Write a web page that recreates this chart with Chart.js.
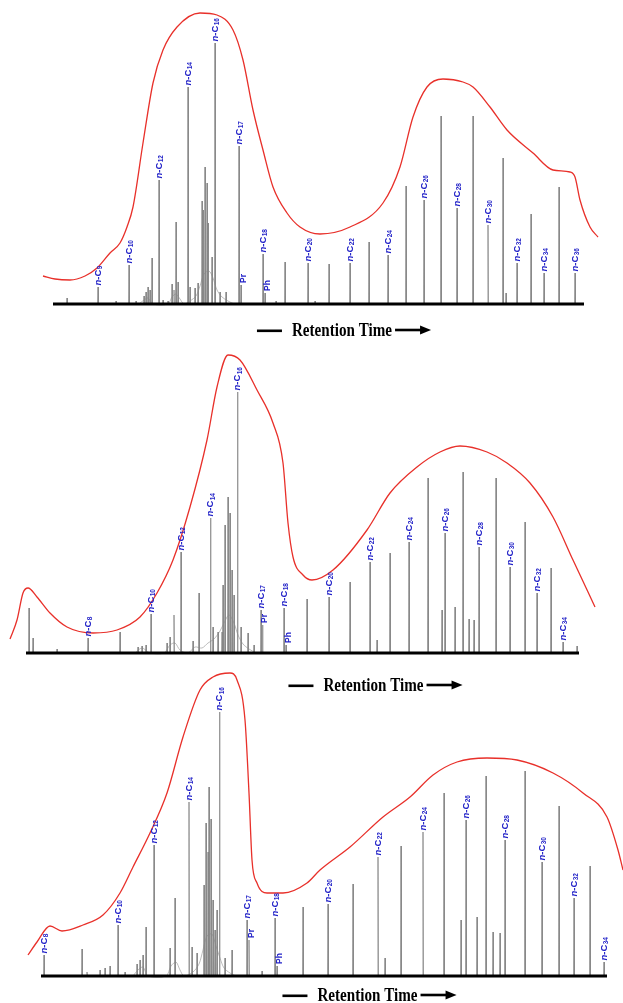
<!DOCTYPE html>
<html><head><meta charset="utf-8">
<script src="https://cdn.jsdelivr.net/npm/chart.js@4.4.1/dist/chart.umd.min.js"></script>
<style>
html,body{margin:0;padding:0;background:#fff;}
#wrap{position:relative;width:623px;height:1003px;overflow:hidden;background:#fff;}
canvas{position:absolute;left:0;}
</style></head><body>
<div id="wrap">
<canvas id="c1" width="623" height="345" style="top:0px"></canvas>
<canvas id="c2" width="623" height="355" style="top:345px"></canvas>
<canvas id="c3" width="623" height="343" style="top:660px"></canvas>
</div>
<script>
// ===== Chromatogram A (top) — retention time (min), abundance (arbitrary units)
const aAlkaneLabels  = ['9','10','12','14','16','17','18','20','22','24','26','28','30','32','34','36'];
const aAlkaneTimes   = [9.8,12.9,15.9,18.8,21.5,23.9,26.3,30.8,35.0,38.8,42.4,45.7,48.8,51.7,54.4,57.5];
const aAlkaneHeights = [17,39,124,217,261,158,50,41,41,49,104,96,79,41,31,31];
const aIsoLabels  = ['Pr','Ph'];
const aIsoTimes   = [24.1,26.5];
const aIsoHeights = [19,11];
const aPeakTimes   = [6.7,11.6,13.6,14.4,14.6,14.8,15.0,15.2,16.3,16.8,17.2,17.4,17.6,17.8,19.0,19.5,19.8,20.2,20.3,20.5,20.7,20.8,21.2,22.0,22.6,27.6,28.5,31.5,32.9,36.9,40.6,44.1,47.3,50.3,50.6,53.1,55.9];
const aPeakHeights = [6,3,3,8,12,17,14,46,4,3,20,14,82,22,17,16,21,103,94,137,121,81,47,12,12,3,42,3,40,62,118,188,188,146,11,90,117];
const aHumpTimes  = [13.9,14.4,14.8,15.3,16.8,17.2,17.6,18.0,18.4,19.0,19.6,20.0,20.4,20.9,21.3,21.7,22.2,22.8,23.4];
const aHumpValues = [0,4,6,0,0,7,10,5,0,3,8,18,30,33,26,14,7,3,0];
const aEnvTimes  = [4.3,5.5,7.0,8.5,9.7,11.0,12.0,12.7,13.3,14.3,15.3,16.3,17.7,20.0,21.7,23.3,24.3,25.3,26.3,27.3,28.7,30.0,32.0,35.0,38.3,40.0,41.3,42.7,44.3,46.3,47.3,49.0,50.7,53.3,55.3,57.0,57.5,58.0,59.0,59.8];
const aEnvValues = [28,25,24,28,36,51,61,77,97,161,221,254,277,291,289,274,244,194,154,117,91,77,70,77,101,137,187,217,225,222,217,197,174,151,134,132,127,104,77,67];
const aBaseRange = [5.3,58.4];

// ===== Chromatogram B (middle)
const bAlkaneLabels  = ['8','10','12','14','16','17','18','20','22','24','26','28','30','32','34'];
const bAlkaneTimes   = [8.8,15.1,18.1,21.05,23.75,26.1,28.4,32.9,37.0,40.9,44.5,47.9,51.0,53.7,56.3];
const bAlkaneHeights = [15,39,101,135,261,43,45,56,91,111,120,106,86,60,11];
const bIsoLabels  = ['Pr','Ph'];
const bIsoTimes   = [26.25,28.6];
const bIsoHeights = [28,8];
const bPeakTimes   = [2.9,3.3,5.7,12.0,13.8,14.2,14.6,16.7,17.0,17.4,19.3,19.9,21.3,21.8,22.2,22.3,22.5,22.8,23.0,23.2,23.4,24.1,24.8,25.4,30.7,35.0,37.7,39.0,42.8,44.2,45.5,46.3,46.9,47.4,49.6,52.5,55.1,57.7];
const bPeakHeights = [45,15,4,21,6,7,8,10,16,38,12,60,26,21,21,68,128,156,140,83,58,26,20,8,54,71,13,100,175,43,46,181,34,33,175,131,85,7];
const bHumpTimes  = [13.5,14.2,15.0,16.4,17.0,17.5,18.0,18.8,19.5,20.2,20.8,21.4,22.0,22.4,22.9,23.4,23.8,24.3,24.9,25.6];
const bHumpValues = [0,5,0,0,8,10,3,0,6,5,10,14,22,30,38,30,18,9,4,0];
const bEnvTimes  = [1.0,1.7,2.3,2.8,3.7,5.0,6.7,9.3,11.7,14.0,15.7,17.3,19.0,20.7,21.7,22.8,24.0,25.7,27.3,28.3,28.8,29.3,30.3,31.2,33.3,36.7,39.0,41.7,44.0,46.0,48.7,50.7,53.0,55.3,57.3,59.5];
const bEnvValues = [14,33,60,65,56,40,26,20,23,36,60,93,146,213,266,298,293,263,230,190,130,96,78,73,83,123,160,186,201,207,201,190,170,136,93,46];
const bBaseRange = [2.6,57.9];

// ===== Chromatogram C (bottom)
const cAlkaneLabels  = ['8','10','12','14','16','17','18','20','22','24','26','28','30','32','34'];
const cAlkaneTimes   = [4.4,11.8,15.4,18.9,21.95,24.7,27.5,32.8,37.8,42.3,46.6,50.5,54.2,57.4,60.4];
const cAlkaneHeights = [21,51,131,174,264,56,58,72,119,144,156,136,114,78,14];
const cIsoLabels  = ['Pr','Ph'];
const cIsoTimes   = [24.9,27.7];
const cIsoHeights = [36,10];
const cPeakTimes   = [8.2,8.7,10.0,10.5,11.0,12.5,13.7,14.0,14.3,14.6,17.0,17.5,19.2,19.7,20.4,20.6,20.8,20.9,21.1,21.3,21.5,21.7,22.5,23.2,26.2,30.3,35.3,38.5,40.1,44.4,46.1,47.7,48.6,49.3,50.0,52.5,55.9,59.0];
const cPeakHeights = [27,4,6,8,10,4,12,16,21,49,28,78,29,23,91,153,124,189,157,76,46,66,18,26,5,69,92,18,130,183,56,59,200,44,43,205,170,110];
const cHumpTimes  = [13.3,13.8,14.3,14.8,16.6,17.1,17.6,18.0,18.4,19.3,19.9,20.3,20.7,21.2,21.6,22.0,22.4,23.0,23.6];
const cHumpValues = [0,6,9,0,0,10,14,6,0,4,12,26,40,42,30,18,8,3,0];
const cEnvTimes  = [2.8,3.7,5.0,6.2,8.3,10.3,12.0,13.3,15.0,16.7,18.3,20.0,21.3,23.0,23.7,24.5,24.9,25.2,25.7,26.7,28.3,30.7,32.0,35.0,38.3,41.0,43.3,45.7,48.7,51.7,55.3,58.3,60.7,61.8,62.3];
const cEnvValues = [21,34,50,45,51,61,83,109,143,183,239,286,299,303,296,256,183,116,93,83,83,93,106,129,159,179,201,214,218,216,203,183,159,126,106];
const cBaseRange = [4.1,60.7];

const axisCaption = 'Retention Time';

// ===== helpers
const zip = (t, v) => t.map((x, i) => ({x, y: v[i]}));
const PEAK_HALF_WIDTH = 0.045;
function spikes(times, heights) {
  const d = [];
  times.forEach((t, i) => { d.push({x: t - PEAK_HALF_WIDTH, y: 0}, {x: t, y: heights[i]}, {x: t + PEAK_HALF_WIDTH, y: 0}); });
  return d;
}

const peakLabels = {
  id: 'peakLabels',
  afterDatasetsDraw(chart, args, o) {
    const {ctx} = chart, x = chart.scales.x, y = chart.scales.y;
    ctx.save();
    ctx.fillStyle = '#2323c8';
    ctx.textAlign = 'left';
    ctx.textBaseline = 'middle';
    o.alkLabels.forEach((sub, i) => {
      const px = x.getPixelForValue(o.alkTimes[i]);
      const py = y.getPixelForValue(o.alkHeights[i]) - 1.5;
      ctx.save();
      ctx.translate(px, py);
      ctx.rotate(-Math.PI / 2);
      let cx = 0;
      ctx.font = 'italic bold 9.5px "Liberation Sans"';
      ctx.fillText('n', cx, 0); cx += ctx.measureText('n').width;
      ctx.font = 'bold 9.5px "Liberation Sans"';
      ctx.fillText('-C', cx, 0); cx += ctx.measureText('-C').width;
      ctx.font = 'bold 6.5px "Liberation Sans"';
      ctx.fillText(sub, cx + 0.3, 2.3);
      ctx.restore();
    });
    o.isoLabels.forEach((lab, i) => {
      const px = x.getPixelForValue(o.isoTimes[i]) + 2.5;
      const py = y.getPixelForValue(o.isoHeights[i]) - 2;
      ctx.save();
      ctx.translate(px, py);
      ctx.rotate(-Math.PI / 2);
      ctx.font = 'bold 8.5px "Liberation Sans"';
      ctx.fillText(lab, 0, 0);
      ctx.restore();
    });
    ctx.restore();
  }
};

const caption = {
  id: 'caption',
  afterDraw(chart, args, o) {
    const {ctx} = chart;
    const sx = 0.84;
    ctx.save();
    ctx.fillStyle = '#000';
    ctx.font = 'bold 18px "Liberation Serif"';
    const w = ctx.measureText(o.text).width * sx;
    const left = o.cx - w / 2, right = o.cx + w / 2;
    ctx.save();
    ctx.translate(left, o.cy + 6);
    ctx.scale(sx, 1);
    ctx.textBaseline = 'alphabetic';
    ctx.fillText(o.text, 0, 0);
    ctx.restore();
    // left dash
    ctx.fillRect(left - 35, o.cy - 0.5, 25, 2.6);
    // right arrow
    const a0 = right + 3, a1 = right + 39;
    ctx.fillRect(a0, o.cy - 1.3, a1 - a0 - 9, 2.6);
    ctx.beginPath();
    ctx.moveTo(a1 - 11, o.cy - 4.5);
    ctx.lineTo(a1, o.cy);
    ctx.lineTo(a1 - 11, o.cy + 4.5);
    ctx.closePath();
    ctx.fill();
    ctx.restore();
  }
};

function makeChart(id, d) {
  const gray = '#888888';
  const base = {pointRadius: 0, fill: false, clip: false, tension: 0};
  return new Chart(document.getElementById(id), {
    type: 'line',
    data: {datasets: [
      {...base, label: 'Baseline', data: [{x: d.range[0], y: 0}, {x: d.range[1], y: 0}], borderColor: '#000', borderWidth: 3},
      {...base, label: 'UCM envelope', data: zip(d.envT, d.envV), borderColor: '#e8302a', borderWidth: 1.3, cubicInterpolationMode: 'monotone'},
      {...base, label: 'n-Alkanes', data: spikes(d.alkT, d.alkH), borderColor: gray, borderWidth: 0.8},
      {...base, label: 'Isoprenoids', data: spikes(d.isoT, d.isoH), borderColor: gray, borderWidth: 0.8},
      {...base, label: 'Other peaks', data: spikes(d.pkT, d.pkH), borderColor: gray, borderWidth: 0.8},
      {...base, label: 'Unresolved hump', data: zip(d.humpT, d.humpV), borderColor: '#a0a0a0', borderWidth: 0.7, tension: 0.3}
    ]},
    options: {
      responsive: false, animation: false, devicePixelRatio: 1, events: [],
      layout: {padding: 0},
      scales: {
        x: {type: 'linear', display: false, min: 0, max: 62.3},
        y: {type: 'linear', display: false, min: d.yMin, max: d.yMax}
      },
      plugins: {
        legend: {display: false}, tooltip: {enabled: false},
        peakLabels: {alkLabels: d.alkL, alkTimes: d.alkT, alkHeights: d.alkH, isoLabels: d.isoL, isoTimes: d.isoT, isoHeights: d.isoH},
        caption: {text: axisCaption, cx: d.capX, cy: d.capY}
      }
    },
    plugins: [peakLabels, caption]
  });
}

makeChart('c1', {range: aBaseRange, envT: aEnvTimes, envV: aEnvValues, alkL: aAlkaneLabels, alkT: aAlkaneTimes, alkH: aAlkaneHeights,
  isoL: aIsoLabels, isoT: aIsoTimes, isoH: aIsoHeights, pkT: aPeakTimes, pkH: aPeakHeights, humpT: aHumpTimes, humpV: aHumpValues,
  yMin: -41, yMax: 304, capX: 342, capY: 330});
makeChart('c2', {range: bBaseRange, envT: bEnvTimes, envV: bEnvValues, alkL: bAlkaneLabels, alkT: bAlkaneTimes, alkH: bAlkaneHeights,
  isoL: bIsoLabels, isoT: bIsoTimes, isoH: bIsoHeights, pkT: bPeakTimes, pkH: bPeakHeights, humpT: bHumpTimes, humpV: bHumpValues,
  yMin: -47, yMax: 308, capX: 373.5, capY: 340});
makeChart('c3', {range: cBaseRange, envT: cEnvTimes, envV: cEnvValues, alkL: cAlkaneLabels, alkT: cAlkaneTimes, alkH: cAlkaneHeights,
  isoL: cIsoLabels, isoT: cIsoTimes, isoH: cIsoHeights, pkT: cPeakTimes, pkH: cPeakHeights, humpT: cHumpTimes, humpV: cHumpValues,
  yMin: -27, yMax: 316, capX: 367.5, capY: 335});
</script>
</body></html>
